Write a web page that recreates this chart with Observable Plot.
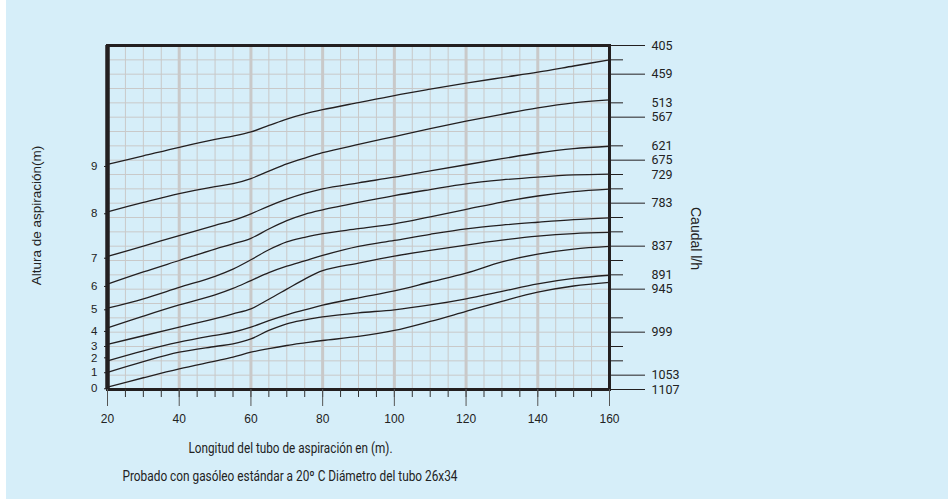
<!DOCTYPE html>
<html>
<head>
<meta charset="utf-8">
<script src="https://cdn.jsdelivr.net/npm/d3@7"></script>
<script src="https://cdn.jsdelivr.net/npm/@observablehq/plot@0.6"></script>
<style>
  html, body { margin: 0; padding: 0; background: #ffffff; }
  #chart svg { display: block; box-shadow: inset 6px 0 0 #ffffff; }
</style>
</head>
<body>
<div id="chart"></div>
<script>
// Pipe length (m) where the curves were read
const longitud = [20, 30, 40, 50, 55, 60, 65, 70, 75, 80, 90, 100, 110, 120, 130, 140, 150, 160];

// Curves in grid rows (0 = bottom, 24 = top), one per suction height 0..9 m
const h0 = [0.17, 0.82, 1.44, 1.98, 2.26, 2.6, 2.85, 3.07, 3.25, 3.42, 3.7, 4.12, 4.75, 5.45, 6.15, 6.79, 7.22, 7.47];
const h1 = [1.2, 1.95, 2.6, 3.0, 3.19, 3.53, 4.12, 4.58, 4.85, 5.07, 5.35, 5.56, 5.9, 6.33, 6.85, 7.37, 7.75, 7.97];
const h2 = [2.0, 2.7, 3.3, 3.78, 4.0, 4.35, 4.81, 5.21, 5.55, 5.88, 6.4, 6.88, 7.5, 8.12, 8.9, 9.45, 9.8, 9.98];
const h3 = [3.15, 3.75, 4.35, 4.95, 5.28, 5.63, 6.3, 7.0, 7.7, 8.3, 8.82, 9.3, 9.7, 10.08, 10.42, 10.7, 10.88, 10.96];
const h4 = [4.3, 5.12, 5.9, 6.6, 7.05, 7.6, 8.15, 8.6, 8.97, 9.35, 9.98, 10.4, 10.83, 11.21, 11.47, 11.67, 11.85, 11.98];
const h5 = [5.67, 6.33, 7.12, 7.9, 8.4, 9.05, 9.75, 10.3, 10.62, 10.88, 11.22, 11.56, 12.05, 12.56, 13.08, 13.5, 13.8, 13.98];
const h6 = [7.35, 8.2, 9.0, 9.8, 10.16, 10.55, 11.2, 11.78, 12.22, 12.53, 13.05, 13.53, 13.95, 14.35, 14.62, 14.82, 14.97, 15.03];
const h7 = [9.28, 10.0, 10.74, 11.45, 11.8, 12.26, 12.8, 13.28, 13.68, 14.0, 14.42, 14.81, 15.25, 15.68, 16.1, 16.5, 16.8, 16.97];
const h8 = [12.4, 13.05, 13.66, 14.15, 14.36, 14.72, 15.23, 15.74, 16.15, 16.52, 17.1, 17.65, 18.2, 18.72, 19.2, 19.65, 20.0, 20.21];
const h9 = [15.7, 16.3, 16.9, 17.45, 17.68, 17.97, 18.42, 18.87, 19.23, 19.52, 20.02, 20.51, 20.95, 21.37, 21.76, 22.14, 22.57, 23.0];

// Left axis: suction height labels and their grid-row positions
const alturaLabels = ["0", "1", "2", "3", "4", "5", "6", "7", "8", "9"];
const alturaPos = [0.05, 1.17, 2.21, 3.0, 4.05, 5.56, 7.19, 9.16, 12.26, 15.56];

// Right axis: flow labels (l/h) and grid-row positions
const caudalLabels = ["405", "459", "513", "567", "621", "675", "729", "783", "837", "891", "945", "999", "1053", "1107"];
const caudalPos = [24, 22, 20, 19, 17, 16, 15, 13, 10, 8, 7, 4, 1, 0];
const caudalLongTicks = [24, 22, 19, 16, 13, 10, 7, 4, 1, 0];
const caudalShortTicks = [23, 20, 17, 15, 14, 12, 11, 9, 8, 5, 3, 2];

// Bottom axis labels
const xTickLabels = [20, 40, 60, 80, 100, 120, 140, 160];

const textos = {
  yTitle: "Altura de aspiración(m)",
  rTitle: "Caudal l/h",
  xTitle: "Longitud del tubo de aspiración en (m).",
  caption: "Probado con gasóleo estándar a 20º C Diámetro del tubo 26x34"
};

const curves = [h0, h1, h2, h3, h4, h5, h6, h7, h8, h9];
const table = curves.flatMap((arr, k) => arr.map((v, i) => ({x: longitud[i], y: v, k})));

const rows = d3.range(0, 25);
const minorX = d3.range(25, 160, 5);
const majorX = [40, 60, 80, 100, 120, 140];
const allX = d3.range(20, 161, 5);
const caudalMap = new Map(caudalPos.map((p, i) => [p, caudalLabels[i]]));
const alturaMap = new Map(alturaPos.map((p, i) => [p, alturaLabels[i]]));
const none = () => "";

const ink = "#231f20";
const gridC = "#c9c9c9";
const narrow = "'Liberation Sans Narrow', 'Roboto', sans-serif";

const chart = Plot.plot({
  width: 948,
  height: 499,
  marginLeft: 107,
  marginRight: 339,
  marginTop: 45,
  marginBottom: 110,
  style: {background: "#d6eef9", fontFamily: "'Liberation Sans', Arial, sans-serif", color: ink},
  x: {domain: [20, 160]},
  y: {domain: [0, 24]},
  marks: [
    Plot.ruleY(rows, {stroke: gridC, strokeWidth: 1}),
    Plot.ruleX(minorX, {stroke: gridC, strokeWidth: 1}),
    Plot.ruleX(majorX, {stroke: gridC, strokeWidth: 3}),
    Plot.line(table, {x: "x", y: "y", z: "k", curve: "catmull-rom", stroke: ink, strokeWidth: 1.3}),
    Plot.frame({stroke: ink, strokeWidth: 3}),
    Plot.ruleX([20], {stroke: ink, strokeWidth: 4.5}),
    // bottom axis
    Plot.axisX(allX, {tickSize: 8, tickFormat: none, stroke: "#333", label: null}),
    Plot.axisX(xTickLabels, {tickSize: 17, tickPadding: 8, stroke: "#555", fontSize: 12, fill: "#222", label: null}),
    // left axis
    Plot.axisY(alturaPos, {anchor: "left", tickSize: 3, tickPadding: 7, tickFormat: d => alturaMap.get(d), fontSize: 11.5, fill: "#222", stroke: ink, label: null}),
    // right axis
    Plot.axisY(caudalLongTicks, {anchor: "right", tickSize: 35, tickFormat: none, stroke: ink, label: null}),
    Plot.axisY(caudalShortTicks, {anchor: "right", tickSize: 13, tickFormat: none, stroke: ink, label: null}),
    Plot.axisY(caudalPos, {anchor: "right", tickSize: 0, tickPadding: 42, tickFormat: d => caudalMap.get(d), fontSize: 12.5, fill: "#222", fontFamily: narrow, label: null}),
    // titles
    Plot.text([textos.yTitle], {frameAnchor: "left", dx: -71, dy: -2, rotate: -90, textAnchor: "middle", lineAnchor: "middle", fontSize: 13.5, fill: "#222", text: d => d}),
    Plot.text([textos.rTitle], {frameAnchor: "right", dx: 86, dy: 21, rotate: 90, textAnchor: "middle", lineAnchor: "middle", fontSize: 14, fill: "#222", text: d => d}),
    Plot.text([textos.xTitle], {frameAnchor: "bottom-left", dx: 81, dy: 63, textAnchor: "start", fontSize: 14.5, fill: "#222", fontFamily: narrow, text: d => d}),
    Plot.text([textos.caption], {frameAnchor: "bottom-left", dx: 15, dy: 91, textAnchor: "start", fontSize: 14.5, fill: "#222", fontFamily: narrow, text: d => d})
  ]
});

// fit condensed lines to the reference widths
const fitWidths = new Map([[textos.xTitle, 204], [textos.caption, 335]]);
d3.select(chart).selectAll("text").each(function() {
  const w = fitWidths.get(this.textContent);
  if (w) { this.setAttribute("textLength", w); this.setAttribute("lengthAdjust", "spacingAndGlyphs"); }
});

document.getElementById("chart").append(chart);
</script>
</body>
</html>
